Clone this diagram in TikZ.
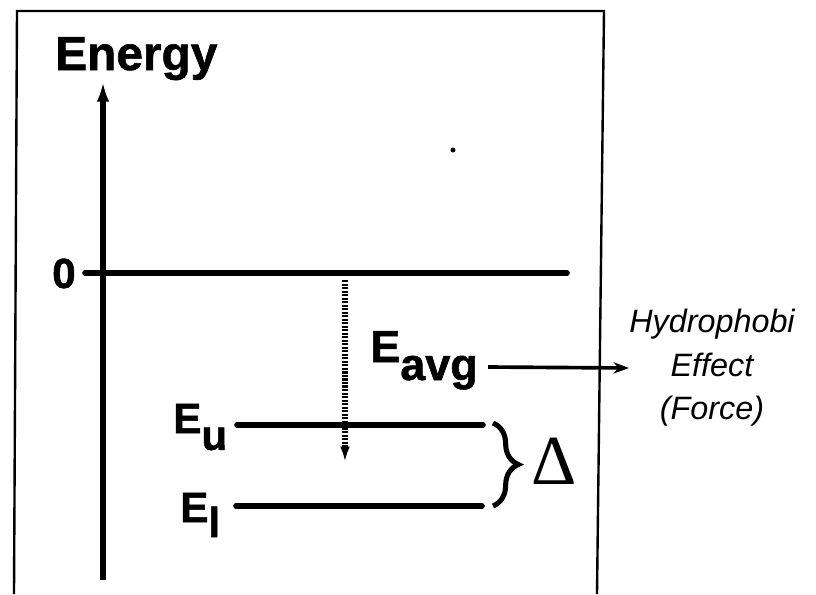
\documentclass[tikz,border=0pt]{standalone}
\usepackage{fontspec}
\setmainfont{Liberation Sans}
\newfontfamily\heavyfont[FakeBold=1.2]{Liberation Sans Bold}
\newfontfamily\deltafont{Liberation Serif}
\usetikzlibrary{arrows.meta,decorations.pathreplacing}
\begin{document}
\begin{tikzpicture}[x=0.025cm,y=-0.025cm,
    frame/.style={line width=1.7pt},
    level/.style={line width=4pt,line cap=round},
    lbl/.style={inner sep=0pt,font=\heavyfont\fontsize{30}{30}\selectfont},
    hand/.style={inner sep=0pt,align=center,font=\itshape\fontsize{23}{31}\selectfont}]
    \useasboundingbox (0,0) rectangle (816,594);
    \draw[frame] (14,594) -- (17,11) -- (604,11) -- (597,594);
    \fill (453,150) circle (2.5);
    \node[lbl,anchor=base west,font=\heavyfont\fontsize{34}{34}\selectfont] (energy) at (55,70) {Energy};
    \coordinate (ybot) at (103,580);
    \coordinate (ytop) at (103,82);
    \draw[level,line cap=butt,-{Latex[length=14pt,width=9pt]}] (ybot) -- (ytop);
    \node[lbl,anchor=base east] (zero) at (76,288) {0};
    \coordinate (zend) at (567,273);
    \draw[level] (zero.east |- zend) ++(9,0) coordinate (zbeg) -- (zend);
    \node[lbl,anchor=base west,font=\heavyfont\fontsize{32}{32}\selectfont] (eavg) at (370,362) {E\raisebox{-0.4em}{avg}};
    \node[lbl,anchor=base west] (eu) at (173,433) {E\raisebox{-0.4em}{u}};
    \node[lbl,anchor=base west] (el) at (180,522) {E\raisebox{-0.36em}{l}};
    \coordinate (ua) at (237,425); \coordinate (ub) at (483,425);
    \coordinate (la) at (236,506); \coordinate (lb) at (482,506);
    \draw[level] (ua) -- (ub);
    \draw[level] (la) -- (lb);
    \coordinate (dtop) at (345,280);
    \coordinate (dbot) at (345,462);
    \draw[line width=4.5pt,dash pattern=on 1.5pt off 1pt,-{Latex[length=11pt,width=7pt]}] (dtop) -- (dbot);
    \draw[line width=3.6pt,decoration={brace,amplitude=18},decorate] (ub) ++(10,-2) coordinate (btop) -- (lb -| btop) coordinate (bbot);
    \node[inner sep=0pt,font=\deltafont\fontsize{50}{50}\selectfont] (delta) at (554,461) {Δ};
    \node[hand] (hydro) at (712,368) {Hydrophobi\\Effect\\(Force)};
    \draw[line width=2.6pt,-{Stealth[length=11pt,width=8pt]}] (eavg.east |- 0,367) ++(10,0) coordinate (abeg) -- (hydro.west);
\end{tikzpicture}
\end{document}
